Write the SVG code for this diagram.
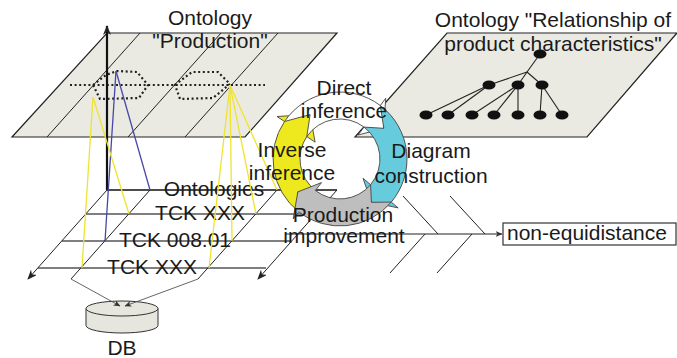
<svg xmlns="http://www.w3.org/2000/svg" width="677" height="358" viewBox="0 0 677 358">
<defs>
<style>
text{font-family:"Liberation Sans",Arial,sans-serif;font-size:21px;fill:#1a1a1a}
.c{text-anchor:middle}
.plane{fill:#EAEAE2;stroke:#222;stroke-width:1.2}
.thin{stroke:#222;stroke-width:1;fill:none}
.dot{stroke:#222;stroke-width:2.2;fill:none;stroke-dasharray:2 2.6}
.yl{stroke:#EEE430;stroke-width:1.3;fill:none}
.bl{stroke:#4848A8;stroke-width:1.3;fill:none}
.gl{stroke:#555;stroke-width:1.6;fill:none}
.edge{stroke:#222;stroke-width:1.1;fill:none}
.db{stroke:#555;stroke-width:0.9;fill:none}
.ring{stroke:#444;stroke-width:0.9}
.nd{fill:#111}
</style>
<marker id="ah" markerWidth="10" markerHeight="8" refX="9" refY="4" orient="auto" markerUnits="userSpaceOnUse">
<path d="M0,0 L10,4 L0,8 L3,4 Z" fill="#222"/>
</marker>
<marker id="ahs" markerWidth="7" markerHeight="6" refX="6.5" refY="3" orient="auto" markerUnits="userSpaceOnUse">
<path d="M0,0 L7,3 L0,6 L2,3 Z" fill="#333"/>
</marker>
</defs>

<g id="plane-production">
<polygon class="plane" points="107,33 337,33 245,137 12,137"/>
<line class="thin" x1="47" y1="137" x2="140" y2="33"/>
<line class="thin" x1="128" y1="137" x2="221" y2="33"/>
<line class="thin" x1="185" y1="137" x2="278" y2="33"/>
<line class="dot" x1="70" y1="85" x2="265" y2="85"/>
<polygon class="dot" points="93,85 106,75 117,71 137,72 148,85 139,98 100,99"/>
<polygon class="dot" points="175,85 192,72 218,72 230,84 213,98 180,99"/>
<text class="c" x="210" y="25">Ontology</text>
<text class="c" x="210" y="48">"Production"</text>
</g>

<g id="plane-relationship">
<polygon class="plane" points="447,33 677,33 587,137 355,137"/>
<g class="edge">
<line x1="540" y1="54" x2="527" y2="72"/>
<line x1="527" y1="72" x2="489" y2="85"/>
<line x1="527" y1="72" x2="518" y2="85"/>
<line x1="527" y1="72" x2="542" y2="85"/>
<line x1="489" y1="85" x2="426" y2="115"/>
<line x1="489" y1="85" x2="448" y2="115"/>
<line x1="518" y1="85" x2="472" y2="115"/>
<line x1="518" y1="85" x2="494" y2="115"/>
<line x1="518" y1="85" x2="518" y2="115"/>
<line x1="542" y1="85" x2="540" y2="115"/>
<line x1="542" y1="85" x2="562" y2="115"/>
</g>
<ellipse class="nd" cx="540" cy="54" rx="6.5" ry="4.5"/>
<ellipse class="nd" cx="489" cy="85" rx="6.5" ry="4.5"/>
<ellipse class="nd" cx="518" cy="85" rx="6.5" ry="4.5"/>
<ellipse class="nd" cx="542" cy="85" rx="6.5" ry="4.5"/>
<ellipse class="nd" cx="426" cy="115" rx="6.5" ry="4.5"/>
<ellipse class="nd" cx="448" cy="115" rx="6.5" ry="4.5"/>
<ellipse class="nd" cx="472" cy="115" rx="6.5" ry="4.5"/>
<ellipse class="nd" cx="494" cy="115" rx="6.5" ry="4.5"/>
<ellipse class="nd" cx="518" cy="115" rx="6.5" ry="4.5"/>
<ellipse class="nd" cx="540" cy="115" rx="6.5" ry="4.5"/>
<ellipse class="nd" cx="562" cy="115" rx="6.5" ry="4.5"/>
<text class="c" x="553" y="27">Ontology "Relationship of</text>
<text class="c" x="553" y="51">product characteristics"</text>
</g>

<g id="grid">
<line class="gl" x1="86" y1="214" x2="314" y2="214"/>
<line class="gl" x1="62" y1="241" x2="290" y2="241"/>
<line class="gl" x1="38" y1="268" x2="266" y2="268"/>
<line x1="107" y1="190" x2="337" y2="190" stroke="#111" stroke-width="1.6"/>
<line class="thin" x1="107" y1="190" x2="28" y2="279" marker-end="url(#ah)"/>
<line class="thin" x1="337" y1="190" x2="258" y2="279" marker-end="url(#ah)"/>
<line class="thin" x1="150" y1="190" x2="71" y2="279"/>
<line class="thin" x1="277" y1="190" x2="198" y2="279"/>
<line x1="107" y1="190" x2="107" y2="26" stroke="#111" stroke-width="2.2" marker-end="url(#ah)"/>
<text class="c" x="214" y="196">Ontologies</text>
<text class="c" x="200" y="220">TCK XXX</text>
<text class="c" x="175" y="247">TCK 008.01</text>
<text class="c" x="152" y="274">TCK XXX</text>
</g>

<g id="db">
<path d="M86,308.5 L86,325.5 A36,7.5 0 0 0 158,325.5 L158,308.5" fill="#E6E6DE" stroke="#333" stroke-width="1"/>
<ellipse cx="122" cy="308.5" rx="36" ry="7.5" fill="#E6E6DE" stroke="#333" stroke-width="1"/>
<text class="c" x="122" y="355">DB</text>
</g>

<g id="connectors">
<line class="bl" x1="116" y1="71" x2="105" y2="241"/>
<line class="bl" x1="116" y1="71" x2="150" y2="190"/>
<line class="yl" x1="93" y1="97" x2="82" y2="268"/>
<line class="yl" x1="93" y1="97" x2="129" y2="214"/>
<line class="yl" x1="230" y1="85" x2="209" y2="268"/>
<line class="yl" x1="230" y1="85" x2="232" y2="241"/>
<line class="yl" x1="230" y1="85" x2="256" y2="214"/>
<line class="yl" x1="230" y1="85" x2="277" y2="190"/>
<line class="db" x1="71" y1="279" x2="120" y2="306" marker-end="url(#ahs)"/>
<line class="db" x1="198" y1="279" x2="125" y2="306" marker-end="url(#ahs)"/>
<line class="thin" x1="285" y1="234" x2="502" y2="234" marker-end="url(#ahs)"/>
<line class="thin" x1="403" y1="196" x2="438" y2="234"/>
<line class="thin" x1="450" y1="196" x2="485" y2="234"/>
<line class="thin" x1="425" y1="234" x2="390" y2="273"/>
<line class="thin" x1="472" y1="234" x2="437" y2="273"/>
</g>

<g id="cycle">
<path id="arrow-inverse" class="ring" fill="#EEE81E" d="M298.8,211.8 A67,67 0 0 1 284.5,121.5 L277,116.5 L310.1,114.6 L315.1,142.2 L306.8,136.6 A40,40 0 0 0 315.4,190.5 L297.8,191.9 Z"/>
<path id="arrow-direct" class="ring" fill="#FFFFFF" d="M284.5,121.5 A67,67 0 0 1 380.3,105.5 L385.7,98.3 L383.8,128.3 L358.1,135 L364.1,127.1 A40,40 0 0 0 306.8,136.6 L310.1,114.6 Z"/>
<path id="arrow-diagram" class="ring" fill="#66CCDD" d="M380.3,105.5 A67,67 0 0 1 391.3,202.1 L398.2,207.9 L371.4,202.3 L363,178.3 L370.6,184.7 A40,40 0 0 0 364.1,127.1 L383.8,128.3 Z"/>
<path id="arrow-production" class="ring" fill="#BEBEBE" d="M391.3,202.1 A67,67 0 0 1 298.8,211.8 L293.2,218.9 L297.8,191.9 L321.5,182.6 L315.4,190.5 A40,40 0 0 0 370.6,184.7 L371.4,202.3 Z"/>
</g>

<g id="labels">
<text class="c" x="344" y="95">Direct</text>
<text class="c" x="344" y="118">inference</text>
<text class="c" x="292" y="157">Inverse</text>
<text class="c" x="292" y="180">inference</text>
<text class="c" x="431" y="158">Diagram</text>
<text class="c" x="431" y="183">construction</text>
<text class="c" x="343" y="222">Production</text>
<text class="c" x="344" y="243">improvement</text>
</g>

<g id="box">
<rect x="503" y="223" width="173" height="22" fill="#fff" stroke="#333" stroke-width="1.2"/>
<text x="507" y="240">non-equidistance</text>
</g>
</svg>
